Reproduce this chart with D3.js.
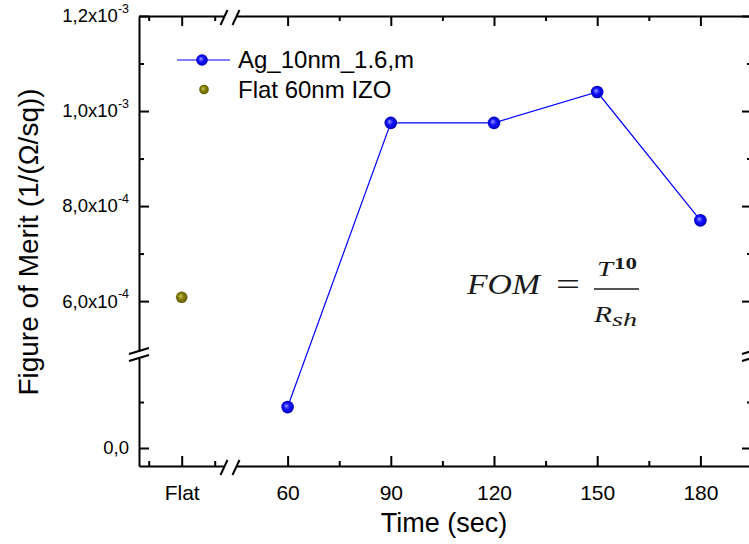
<!DOCTYPE html>
<html>
<head>
<meta charset="utf-8">
<script src="https://cdn.jsdelivr.net/npm/d3@7"></script>
<style>
  html, body { margin: 0; padding: 0; background: #fff; }
  svg { display: block; font-family: "Liberation Sans", Arial, sans-serif; }
</style>
</head>
<body>
<svg id="chart" width="749" height="544"></svg>
<script>
// ---- data ----
const flatLabel = "Flat";
const flatValue = 6.08e-4;                       // Flat 60nm IZO reference
const times = [60, 90, 120, 150, 180];          // deposition time (sec)
const fomValues = [0.89e-4, 9.75e-4, 9.75e-4, 1.04e-3, 7.7e-4];
const seriesNames = ["Ag_10nm_1.6,m", "Flat 60nm IZO"];

// ---- axis ticks ----
const timeTicks = [60, 90, 120, 150, 180];
const timeMinor = [75, 105, 135, 165];
const flatTicks = [1];
const flatMinor = [0.5, 1.5];
const yUpperTicks = [6e-4, 8e-4, 1e-3, 1.2e-3];
const yUpperMant = ["6,0x10", "8,0x10", "1,0x10", "1,2x10"];
const yUpperExp = ["-4", "-4", "-3", "-3"];
const yUpperMinor = [7e-4, 9e-4, 1.1e-3];
const yLowerTicks = [0];
const yLowerLabels = ["0,0"];
const yLowerMinor = [1e-4];

// ---- frame ----
const L = 139, R = 752, T = 16, B = 466;
const xBreakL = 224, xBreakR = 236;   // x-axis break (after "Flat")
const yBreakT = 351, yBreakB = 358;   // y-axis break
const BLUE = "#0000ff", OLIVE = "#808000";

const svg = d3.select("#chart");

// ---- scales: broken axes are two linear segments each ----
const xFlat = d3.scaleLinear().domain([0.353, 1.641]).range([L, xBreakL]);
const xTime = d3.scaleLinear().domain([45, 195]).range([xBreakR, R]);
const yUp = d3.scaleLinear().domain([4.95e-4, 1.2e-3]).range([yBreakT, T]);
const yLo = d3.scaleLinear().domain([-0.391e-4, 1.957e-4]).range([B, yBreakB]);
const yPos = v => v < 3e-4 ? yLo(v) : yUp(v);

// ---- gradients for the shaded spherical markers ----
const defs = svg.append("defs");
function sphere(id, light, base, dark) {
  const g = defs.append("radialGradient").attr("id", id)
    .attr("cx", "50%").attr("cy", "50%").attr("r", "55%")
    .attr("fx", "38%").attr("fy", "38%");
  g.append("stop").attr("offset", "0%").attr("stop-color", light);
  g.append("stop").attr("offset", "45%").attr("stop-color", base);
  g.append("stop").attr("offset", "100%").attr("stop-color", dark);
}
sphere("gBlue", "#9a9aff", "#1010ff", "#0000b0");
sphere("gOlive", "#c8c870", "#858000", "#5a5600");

// ---- axes ----
function styleAxis(g) {
  g.attr("font-family", null).attr("font-size", null);
  g.selectAll("path.domain").attr("stroke", "#000").attr("stroke-width", 2);
  g.selectAll(".tick line").attr("stroke", "#000").attr("stroke-width", 2);
  g.selectAll(".tick text").attr("fill", "#000");
}
function minor(axisFn, scale, vals, size, tx, ty) {
  svg.append("g").attr("transform", `translate(${tx},${ty})`)
    .call(axisFn(scale).tickValues(vals).tickSize(-size).tickFormat(""))
    .call(styleAxis)
    .call(g => g.select("path.domain").remove());
}

// bottom
svg.append("g").attr("transform", `translate(0,${B})`)
  .call(d3.axisBottom(xFlat).tickValues(flatTicks).tickSize(-10).tickSizeOuter(0)
        .tickPadding(19).tickFormat(() => flatLabel))
  .call(styleAxis).selectAll("text").attr("font-size", 21);
svg.append("g").attr("transform", `translate(0,${B})`)
  .call(d3.axisBottom(xTime).tickValues(timeTicks).tickSize(-10).tickSizeOuter(0)
        .tickPadding(19).tickFormat(d3.format("d")))
  .call(styleAxis).selectAll("text").attr("font-size", 21);
minor(d3.axisBottom, xFlat, flatMinor, 5, 0, B);
minor(d3.axisBottom, xTime, timeMinor, 5, 0, B);

// top (mirror, no labels)
svg.append("g").attr("transform", `translate(0,${T})`)
  .call(d3.axisTop(xFlat).tickValues(flatTicks).tickSize(-10).tickSizeOuter(0).tickFormat(""))
  .call(styleAxis);
svg.append("g").attr("transform", `translate(0,${T})`)
  .call(d3.axisTop(xTime).tickValues(timeTicks).tickSize(-10).tickSizeOuter(0).tickFormat(""))
  .call(styleAxis);
minor(d3.axisTop, xFlat, flatMinor, 5, 0, T);
minor(d3.axisTop, xTime, timeMinor, 5, 0, T);

// left
const upLeft = svg.append("g").attr("transform", `translate(${L},0)`)
  .call(d3.axisLeft(yUp).tickValues(yUpperTicks).tickSize(-10).tickSizeOuter(0).tickPadding(10))
  .call(styleAxis);
upLeft.selectAll(".tick text").each(function (d, i) {
  const t = d3.select(this).text(null).attr("font-size", 18.5);
  t.append("tspan").text(yUpperMant[i]);
  t.append("tspan").attr("font-size", 12.5).attr("dy", "-0.75em").text(yUpperExp[i]);
});
svg.append("g").attr("transform", `translate(${L},0)`)
  .call(d3.axisLeft(yLo).tickValues(yLowerTicks).tickSize(-10).tickSizeOuter(0).tickPadding(10)
        .tickFormat((d, i) => yLowerLabels[i]))
  .call(styleAxis).selectAll("text").attr("font-size", 18.5);
minor(d3.axisLeft, yUp, yUpperMinor, 5, L, 0);
minor(d3.axisLeft, yLo, yLowerMinor, 5, L, 0);

// right (mirror, no labels)
svg.append("g").attr("transform", `translate(${R},0)`)
  .call(d3.axisRight(yUp).tickValues(yUpperTicks).tickSize(-10).tickSizeOuter(0).tickFormat(""))
  .call(styleAxis);
svg.append("g").attr("transform", `translate(${R},0)`)
  .call(d3.axisRight(yLo).tickValues(yLowerTicks).tickSize(-10).tickSizeOuter(0).tickFormat(""))
  .call(styleAxis);
minor(d3.axisRight, yUp, yUpperMinor, 5, R, 0);
minor(d3.axisRight, yLo, yLowerMinor, 5, R, 0);

// ---- break marks ----
const brk = svg.append("g").attr("stroke", "#000").attr("stroke-width", 2).attr("fill", "none");
[[xBreakL, B], [xBreakR, B], [xBreakL, T], [xBreakR, T]].forEach(([x, y]) =>
  brk.append("line").attr("x1", x - 3.5).attr("y1", y + 9).attr("x2", x + 3.5).attr("y2", y - 6));
[[L, yBreakT], [L, yBreakB], [R, yBreakT], [R, yBreakB]].forEach(([x, y]) =>
  brk.append("line").attr("x1", x - 10).attr("y1", y + 3).attr("x2", x + 10).attr("y2", y - 3));

// ---- series ----
const pts = times.map((t, i) => [xTime(t), yPos(fomValues[i])]);
svg.append("path").datum(pts)
  .attr("d", d3.line())
  .attr("fill", "none").attr("stroke", BLUE).attr("stroke-width", 1.2);
svg.append("g").selectAll("circle").data(pts).join("circle")
  .attr("cx", d => d[0]).attr("cy", d => d[1]).attr("r", 6.3)
  .attr("fill", "url(#gBlue)");
svg.append("circle")
  .attr("cx", xFlat(1)).attr("cy", yPos(flatValue)).attr("r", 5.8)
  .attr("fill", "url(#gOlive)");

// ---- legend ----
const lg = svg.append("g");
lg.append("line").attr("x1", 177).attr("x2", 230).attr("y1", 60).attr("y2", 60)
  .attr("stroke", BLUE).attr("stroke-width", 1.2);
lg.append("circle").attr("cx", 202).attr("cy", 60).attr("r", 5.8).attr("fill", "url(#gBlue)");
lg.append("circle").attr("cx", 204).attr("cy", 89.5).attr("r", 4.8).attr("fill", "url(#gOlive)");
lg.append("text").attr("x", 238).attr("y", 68).attr("font-size", 24).text(seriesNames[0]);
lg.append("text").attr("x", 238).attr("y", 97.5).attr("font-size", 24).text(seriesNames[1]);

// ---- axis titles ----
svg.append("text").attr("x", 444).attr("y", 532).attr("text-anchor", "middle")
  .attr("font-size", 27).text("Time (sec)");
svg.append("text").attr("transform", "translate(38,242) rotate(-90)")
  .attr("text-anchor", "middle").attr("font-size", 28).text("Figure of Merit (1/(\u03A9/sq))");

// ---- formula annotation: FOM = T^10 / R_sh ----
const fm = svg.append("g").attr("font-family", "'Liberation Serif', 'DejaVu Serif', serif").attr("fill", "#1a1a1a");
fm.append("text").attr("x", 467).attr("y", 294).attr("font-size", 29).attr("font-style", "italic")
  .attr("textLength", 73).attr("lengthAdjust", "spacingAndGlyphs").text("FOM");
fm.append("text").attr("x", 556).attr("y", 295).attr("font-size", 32)
  .attr("textLength", 24).attr("lengthAdjust", "spacingAndGlyphs").text("=");
fm.append("line").attr("x1", 594).attr("x2", 639).attr("y1", 289).attr("y2", 289)
  .attr("stroke", "#1a1a1a").attr("stroke-width", 1.6);
fm.append("text").attr("x", 597).attr("y", 276).attr("font-size", 22).attr("font-style", "italic")
  .attr("textLength", 16).attr("lengthAdjust", "spacingAndGlyphs").text("T");
fm.append("text").attr("x", 614).attr("y", 269).attr("font-size", 16).attr("font-weight", "bold")
  .attr("textLength", 23).attr("lengthAdjust", "spacingAndGlyphs").text("10");
fm.append("text").attr("x", 594).attr("y", 322).attr("font-size", 23).attr("font-style", "italic")
  .attr("textLength", 18).attr("lengthAdjust", "spacingAndGlyphs").text("R");
fm.append("text").attr("x", 612).attr("y", 326).attr("font-size", 19).attr("font-style", "italic")
  .attr("textLength", 25).attr("lengthAdjust", "spacingAndGlyphs").text("sh");
</script>
</body>
</html>
